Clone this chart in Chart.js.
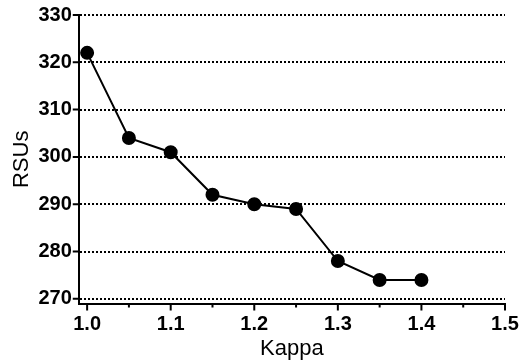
<!DOCTYPE html>
<html lang="en">
<head>
<meta charset="UTF-8">
<title>RSUs vs Kappa</title>
<script src="https://cdn.jsdelivr.net/npm/chart.js"></script>
<style>
  body { margin: 0; padding: 0; background: #fff; }
  .wrap { width: 521px; height: 362px; }
</style>
</head>
<body>
<div class="wrap"><canvas id="chart" width="521" height="362"></canvas></div>
<script>
  // data
  const kappa = [1.0, 1.05, 1.1, 1.15, 1.2, 1.25, 1.3, 1.35, 1.4];
  const rsus = [322, 304, 301, 292, 290, 289, 278, 274, 274];
  const xTicks = [1.0, 1.1, 1.2, 1.3, 1.4, 1.5];
  const xMinorTicks = [1.05, 1.15, 1.25, 1.35, 1.45];
  const yTicks = [270, 280, 290, 300, 310, 320, 330];

  // axis tick marks (solid), drawn on the library's scales
  const tickMarks = {
    id: 'tickMarks',
    afterDraw(chart) {
      const ctx = chart.ctx;
      const xs = chart.scales.x, ys = chart.scales.y;
      const bottom = chart.chartArea.bottom, left = chart.chartArea.left;
      ctx.save();
      ctx.strokeStyle = '#000';
      ctx.lineWidth = 2;
      ctx.beginPath();
      xTicks.forEach(v => {
        const px = xs.getPixelForValue(v);
        ctx.moveTo(px, bottom); ctx.lineTo(px, bottom + 7);
      });
      xMinorTicks.forEach(v => {
        const px = xs.getPixelForValue(v);
        ctx.moveTo(px, bottom); ctx.lineTo(px, bottom + 4);
      });
      yTicks.forEach(v => {
        const py = ys.getPixelForValue(v);
        ctx.moveTo(left, py); ctx.lineTo(left - 6, py);
      });
      ctx.stroke();
      ctx.restore();
    }
  };

  new Chart(document.getElementById('chart'), {
    type: 'scatter',
    data: {
      datasets: [{
        data: kappa.map((k, i) => ({ x: k, y: rsus[i] })),
        showLine: true,
        borderColor: '#000',
        backgroundColor: '#000',
        borderWidth: 2,
        pointRadius: 6,
        pointHoverRadius: 6
      }]
    },
    options: {
      responsive: false,
      animation: false,
      layout: { padding: { top: 0, right: 0, left: 5, bottom: 0 } },
      plugins: { legend: { display: false }, tooltip: { enabled: false } },
      scales: {
        x: {
          type: 'linear',
          min: 0.99,
          max: 1.5,
          afterBuildTicks: s => { s.ticks = xTicks.map(v => ({ value: v })); },
          afterFit: s => { s.paddingRight = 16; },
          grid: { drawOnChartArea: false, drawTicks: false },
          border: { display: true, color: '#000', width: 2 },
          ticks: {
            color: '#000',
            padding: 9,
            maxRotation: 0,
            font: { family: 'Liberation Sans, Arial, sans-serif', size: 20, weight: 'bold' },
            callback: v => v.toFixed(1)
          },
          title: {
            display: true,
            text: 'Kappa',
            color: '#000',
            padding: { top: -10, bottom: 0 },
            font: { family: 'Liberation Sans, Arial, sans-serif', size: 22 }
          }
        },
        y: {
          min: 269,
          max: 330,
          afterBuildTicks: s => { s.ticks = yTicks.map(v => ({ value: v })); },
          afterFit: s => { s.paddingTop = 15; },
          grid: { color: '#000', lineWidth: 2, drawTicks: false },
          border: { display: true, color: '#000', width: 2, dash: [2, 2] },
          ticks: {
            color: '#000',
            padding: 7,
            font: { family: 'Liberation Sans, Arial, sans-serif', size: 20, weight: 'bold' }
          },
          title: {
            display: true,
            text: 'RSUs',
            color: '#000',
            padding: { top: 4, bottom: -4 },
            font: { family: 'Liberation Sans, Arial, sans-serif', size: 22 }
          }
        }
      }
    },
    plugins: [tickMarks]
  });
</script>
</body>
</html>
